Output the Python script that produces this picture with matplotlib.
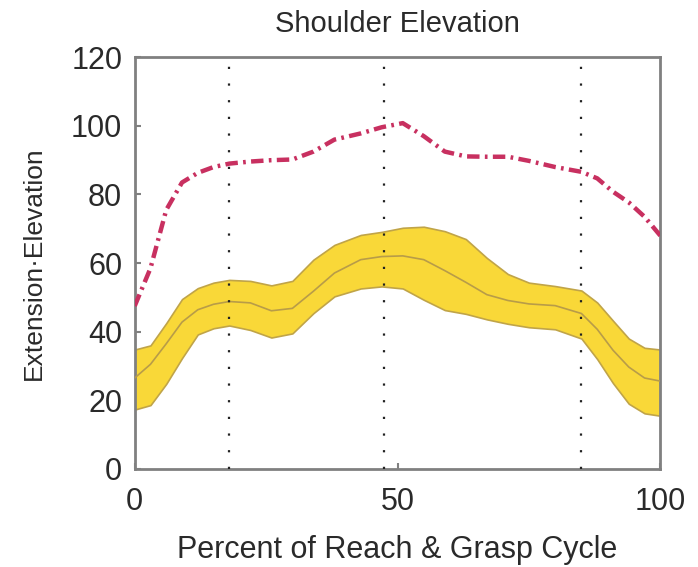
import matplotlib.pyplot as plt

# percent of reach & grasp cycle
cycle = [0, 3, 6, 9, 12, 15, 18, 22, 26, 30, 34, 38, 43, 47, 51, 55, 59,
         63, 67, 71, 75, 80, 85, 88, 91, 94, 97, 100]

# mean elevation with +/- band
elev_mean = [26.5, 30.5, 36.5, 42.8, 46.4, 48.0, 48.8, 48.4, 46.1, 46.8, 51.8,
             57.1, 61.0, 61.9, 62.1, 61.0, 57.8, 54.4, 50.8, 49.1, 48.1, 47.6,
             45.3, 40.7, 34.6, 29.7, 26.5, 25.6]
elev_upper = [34.8, 36.0, 42.5, 49.5, 52.7, 54.3, 55.1, 54.8, 53.5, 54.8, 61.0,
              65.3, 68.2, 69.1, 70.3, 70.6, 69.3, 67.0, 61.5, 56.8, 54.3, 53.3,
              52.0, 48.5, 43.2, 38.0, 35.3, 34.8]
elev_lower = [17.3, 18.6, 24.8, 32.3, 39.2, 41.0, 41.8, 40.5, 38.3, 39.5, 45.4,
              50.3, 52.6, 53.2, 52.6, 49.3, 46.3, 45.2, 43.6, 42.3, 41.3, 40.7,
              38.0, 32.0, 25.0, 19.0, 16.2, 15.5]

# single subject trace
subject = [47.5, 58.5, 75.5, 83.5, 86.3, 88.0, 89.0, 89.6, 90.0, 90.2, 92.5,
           96.0, 97.8, 99.6, 100.8, 97.0, 92.5, 91.1, 91.0, 91.0, 89.8, 88.0,
           86.6, 84.7, 80.8, 77.7, 73.5, 68.0]

# phase boundaries
phases = [18, 47.5, 85]


def do_plot():
    plt.rcParams['font.family'] = ['Liberation Sans', 'DejaVu Sans']
    f = plt.figure(figsize=(6.98, 5.67), dpi=100)
    ax = f.add_axes([0.193, 0.173, 0.753, 0.726])

    ax.fill_between(cycle, elev_lower, elev_upper, color='#f9d838',
                    edgecolor='#c0a448', linewidth=1.2, zorder=2)
    ax.plot(cycle, elev_mean, color='#b89c48', linewidth=1.2, zorder=3)

    for p in phases:
        ax.axvline(p, color='#222222', linewidth=1.6,
                   linestyle=(0, (1.0, 6.5)), zorder=4)

    ax.plot(cycle, subject, color='#c83060', linewidth=3.2,
            linestyle=(0, (2.8, 1.2, 0.6, 1.2)), zorder=5)

    ax.set_xlim(0, 100)
    ax.set_ylim(0, 120)
    ax.set_xticks([0, 50, 100])
    ax.set_yticks([0, 20, 40, 60, 80, 100, 120])
    ax.tick_params(direction='in', length=4, width=1.5, color='#808080',
                   labelsize=22, labelcolor='#2a2a2a', pad=9)
    ax.tick_params(axis='x', pad=13)
    for s in ax.spines.values():
        s.set_color('#808080')
        s.set_linewidth(2)

    ax.set_title('Shoulder Elevation', fontsize=21, color='#2a2a2a', pad=18)
    ax.set_xlabel('Percent of Reach & Grasp Cycle', fontsize=22,
                  color='#2a2a2a', labelpad=13)
    ax.set_ylabel('Extension\u00b7Elevation', fontsize=19, color='#2a2a2a',
                  labelpad=18)

    plt.savefig('out.png', dpi=100)


if __name__ == '__main__':
    do_plot()
